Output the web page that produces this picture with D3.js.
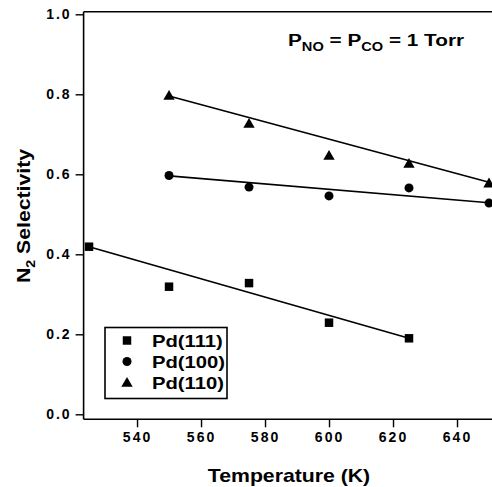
<!DOCTYPE html>
<html>
<head>
<meta charset="utf-8">
<script src="https://cdn.jsdelivr.net/npm/d3@7"></script>
<style>
  body { margin: 0; background: #fff; }
  svg { display: block; font-family: "Liberation Sans", Arial, Helvetica, sans-serif; }
</style>
</head>
<body>
<div id="chart"></div>
<script>
/* ----------------------- Data ----------------------- */
const temps = [525, 550, 575, 600, 625, 650];
const pd111 = [[525, 0.419], [550, 0.319], [575, 0.328], [600, 0.229], [625, 0.19]];
const pd100 = [[550, 0.597], [575, 0.568], [600, 0.546], [625, 0.566], [650, 0.528]];
const pd110 = [[550, 0.797], [575, 0.727], [600, 0.647], [625, 0.627], [650, 0.578]];
// fitted lines, endpoints
const fit111 = [[525, 0.419], [625, 0.19]];
const fit100 = [[550, 0.596], [650, 0.529]];
const fit110 = [[550, 0.796], [650, 0.58]];
const xTicks = [540, 560, 580, 600, 620, 640];
const yTicks = [0.0, 0.2, 0.4, 0.6, 0.8, 1.0];
const seriesNames = ["Pd(111)", "Pd(100)", "Pd(110)"];

(function () {
    const W = 492, H = 487;
    const svg = d3.select("#chart").append("svg")
        .attr("width", W).attr("height", H);

    /* ----------------------- Scales ----------------------- */
    const x = d3.scaleLinear().domain([523.3, 651]).range([83.6, 492.2]);
    const y = d3.scaleLinear().domain([-0.0125, 1.0065]).range([419.3, 11.7]);

    /* ----------------------- Axes ----------------------- */
    const xAxis = d3.axisBottom(x).tickValues(xTicks).tickSize(8).tickPadding(5)
        .tickFormat(d3.format("d"));
    const yAxis = d3.axisLeft(y).tickValues(yTicks).tickSize(8).tickPadding(4)
        .tickFormat(d3.format(".1f"));

    const gx = svg.append("g")
        .attr("transform", `translate(0,${y.range()[0]})`)
        .call(xAxis);
    const gy = svg.append("g")
        .attr("transform", `translate(${x.range()[0]},0)`)
        .call(yAxis);

    [gx, gy].forEach(g => {
        g.select(".domain").attr("stroke", "#000").attr("stroke-width", 1.6);
        g.selectAll(".tick line").attr("stroke", "#000").attr("stroke-width", 1.4);
        g.selectAll(".tick text")
            .attr("fill", "#000")
            .style("font-size", "14px")
            .style("font-weight", "bold")
            .style("letter-spacing", "2px");
    });
    gx.select(".domain").attr("d", `M${x.range()[0]},0H${x.range()[1]}`);
    gy.select(".domain").attr("d", `M0,${y.range()[0]}V${y.range()[1]}`);

    // top frame
    svg.append("line")
        .attr("x1", x.range()[0]).attr("x2", x.range()[1])
        .attr("y1", y.range()[1]).attr("y2", y.range()[1])
        .attr("stroke", "#000").attr("stroke-width", 1.6);

    /* ----------------------- Axis titles ----------------------- */
    // the original lettering is a wide grotesque, so stretch it a little
    svg.append("text")
        .attr("transform", "translate(289,482) scale(1.18,1)")
        .attr("text-anchor", "middle")
        .style("font-size", "18px").style("font-weight", "bold")
        .text("Temperature (K)");

    const yt = svg.append("text")
        .attr("transform", "translate(30,216) rotate(-90) scale(1.18,1)")
        .attr("text-anchor", "middle")
        .style("font-size", "18px").style("font-weight", "bold");
    yt.append("tspan").text("N");
    yt.append("tspan").attr("dy", 5).style("font-size", "12px").text("2");
    yt.append("tspan").attr("dy", -5).text(" Selectivity");

    /* ----------------------- Annotation ----------------------- */
    const ann = svg.append("text")
        .attr("transform", "translate(288,46) scale(1.22,1)")
        .style("font-size", "17px").style("font-weight", "bold");
    ann.append("tspan").text("P");
    ann.append("tspan").attr("dy", 5).style("font-size", "12px").text("NO");
    ann.append("tspan").attr("dy", -5).text(" = P");
    ann.append("tspan").attr("dy", 5).style("font-size", "12px").text("CO");
    ann.append("tspan").attr("dy", -5).text(" = 1 Torr");

    /* ----------------------- Fit lines ----------------------- */
    const line = d3.line().x(d => x(d[0])).y(d => y(d[1]));
    [fit111, fit100, fit110].forEach(f => {
        svg.append("path").attr("d", line(f))
            .attr("fill", "none").attr("stroke", "#000").attr("stroke-width", 1.6);
    });

    /* ----------------------- Markers ----------------------- */
    const symbols = [
        d3.symbol().type(d3.symbolSquare).size(72),
        d3.symbol().type(d3.symbolCircle).size(64),
        d3.symbol().type(d3.symbolTriangle).size(56)
    ];
    [pd111, pd100, pd110].forEach((s, i) => {
        svg.append("g").selectAll("path")
            .data(s)
            .enter().append("path")
            .attr("d", symbols[i]())
            .attr("transform", d => `translate(${x(d[0])},${y(d[1]) + (i === 2 ? 1 : 0)})`)
            .attr("fill", "#000");
    });

    /* ----------------------- Legend ----------------------- */
    const lg = svg.append("g").attr("transform", "translate(105,327.5)");
    lg.append("rect")
        .attr("width", 122).attr("height", 71)
        .attr("fill", "#fff").attr("stroke", "#000").attr("stroke-width", 1.6);
    seriesNames.forEach((name, i) => {
        const row = lg.append("g").attr("transform", `translate(0,${13 + i * 21})`);
        row.append("path")
            .attr("d", symbols[i]())
            .attr("transform", `translate(22,${i === 2 ? 1 : 0})`)
            .attr("fill", "#000");
        row.append("text")
            .attr("transform", "translate(47,6) scale(1.19,1)")
            .style("font-size", "17px").style("font-weight", "bold")
            .text(name);
    });
})();
</script>
</body>
</html>
